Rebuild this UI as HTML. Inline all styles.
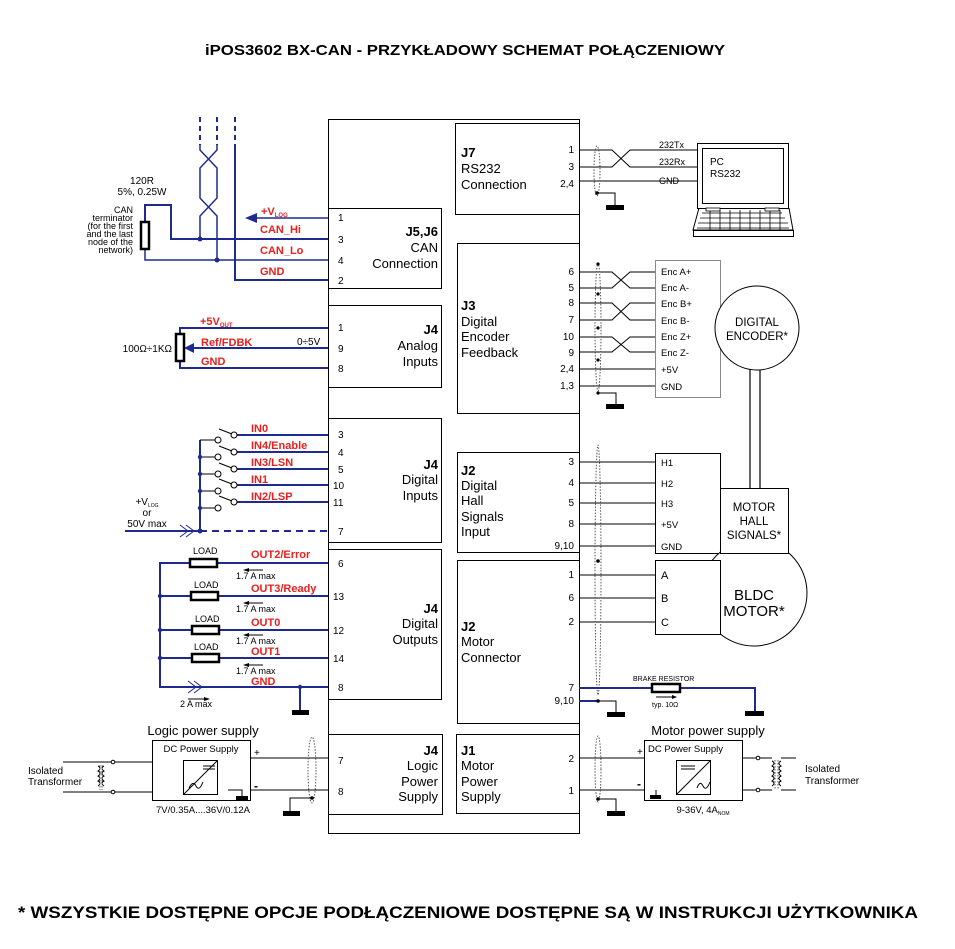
<!DOCTYPE html>
<html><head><meta charset="utf-8"><style>
html,body{margin:0;padding:0;background:#fff;}
svg{display:block;}
text{font-family:"Liberation Sans",sans-serif;}
.b{stroke:#1f2a8f;stroke-width:2;fill:none}
.k{stroke:#000;stroke-width:1;fill:none}
.r{fill:#e8201e;font-weight:bold;font-size:11px}
.p{font-size:10px;fill:#000}
.t{font-size:13px;fill:#000}
.s{font-size:9px;fill:#000}
.dot{fill:#1f2a8f}
.sh{stroke:#555;stroke-width:1;fill:none;stroke-dasharray:1.5 1.5}
</style></head><body>
<svg width="955" height="949" viewBox="0 0 955 949" xmlns="http://www.w3.org/2000/svg">
<text x="465" y="55" text-anchor="middle" font-weight="bold" font-size="15" textLength="520" lengthAdjust="spacingAndGlyphs">iPOS3602 BX-CAN - PRZYKŁADOWY SCHEMAT POŁĄCZENIOWY</text>
<text x="468" y="918" text-anchor="middle" font-weight="bold" font-size="17" textLength="900" lengthAdjust="spacingAndGlyphs">* WSZYSTKIE DOSTĘPNE OPCJE PODŁĄCZENIOWE DOSTĘPNE SĄ W INSTRUKCJI UŻYTKOWNIKA</text>

<g stroke="#000" stroke-width="1" fill="#fff">
<rect x="328.5" y="119.5" width="251" height="714"/>
<rect x="328.5" y="208.5" width="113" height="80"/>
<rect x="328.5" y="305.5" width="113" height="82"/>
<rect x="328.5" y="418.5" width="113" height="124"/>
<rect x="328.5" y="549.5" width="113" height="150"/>
<rect x="328.5" y="734.5" width="114" height="80"/>
<rect x="455.5" y="123.5" width="124" height="91"/>
<rect x="457.5" y="243.5" width="122" height="170"/>
<rect x="457.5" y="452.5" width="122" height="100"/>
<rect x="457.5" y="560.5" width="122" height="163"/>
<rect x="456.5" y="734.5" width="123" height="79"/>
</g>
<g class="t">
<text x="438" y="236" text-anchor="end" font-weight="bold">J5,J6</text>
<text x="438" y="252" text-anchor="end">CAN</text>
<text x="438" y="268" text-anchor="end">Connection</text>
<text x="438" y="334" text-anchor="end" font-weight="bold">J4</text>
<text x="438" y="350" text-anchor="end">Analog</text>
<text x="438" y="366" text-anchor="end">Inputs</text>
<text x="438" y="469" text-anchor="end" font-weight="bold">J4</text>
<text x="438" y="484" text-anchor="end">Digital</text>
<text x="438" y="500" text-anchor="end">Inputs</text>
<text x="438" y="613" text-anchor="end" font-weight="bold">J4</text>
<text x="438" y="628" text-anchor="end">Digital</text>
<text x="438" y="644" text-anchor="end">Outputs</text>
<text x="438" y="755" text-anchor="end" font-weight="bold">J4</text>
<text x="438" y="770" text-anchor="end">Logic</text>
<text x="438" y="786" text-anchor="end">Power</text>
<text x="438" y="801" text-anchor="end">Supply</text>
<text x="461" y="157" font-weight="bold">J7</text>
<text x="461" y="173">RS232</text>
<text x="461" y="189">Connection</text>
<text x="461" y="310" font-weight="bold">J3</text>
<text x="461" y="326">Digital</text>
<text x="461" y="341">Encoder</text>
<text x="461" y="357">Feedback</text>
<text x="461" y="475" font-weight="bold">J2</text>
<text x="461" y="490">Digital</text>
<text x="461" y="505">Hall</text>
<text x="461" y="521">Signals</text>
<text x="461" y="536">Input</text>
<text x="461" y="631" font-weight="bold">J2</text>
<text x="461" y="646">Motor</text>
<text x="461" y="662">Connector</text>
<text x="461" y="755" font-weight="bold">J1</text>
<text x="461" y="770">Motor</text>
<text x="461" y="786">Power</text>
<text x="461" y="801">Supply</text>
</g>
<g class="p">
<text x="338" y="221">1</text><text x="338" y="243">3</text><text x="338" y="264">4</text><text x="338" y="284">2</text>
<text x="338" y="331">1</text><text x="338" y="352">9</text><text x="338" y="372">8</text>
<text x="338" y="438">3</text><text x="338" y="456">4</text><text x="338" y="473">5</text><text x="333" y="489">10</text><text x="333" y="506">11</text><text x="338" y="535">7</text>
<text x="338" y="567">6</text><text x="333" y="600">13</text><text x="333" y="634">12</text><text x="333" y="662">14</text><text x="338" y="691">8</text>
<text x="338" y="764">7</text><text x="338" y="795">8</text>
</g>
<g class="p" text-anchor="end">
<text x="574" y="153">1</text><text x="574" y="170">3</text><text x="574" y="187">2,4</text>
<text x="574" y="275">6</text><text x="574" y="291">5</text><text x="574" y="306">8</text><text x="574" y="323">7</text><text x="574" y="340">10</text><text x="574" y="356">9</text><text x="574" y="372">2,4</text><text x="574" y="389">1,3</text>
<text x="574" y="465">3</text><text x="574" y="486">4</text><text x="574" y="506">5</text><text x="574" y="527">8</text><text x="574" y="549">9,10</text>
<text x="574" y="578">1</text><text x="574" y="601">6</text><text x="574" y="625">2</text>
<text x="574" y="691">7</text><text x="574" y="704">9,10</text>
<text x="574" y="762">2</text><text x="574" y="794">1</text>
</g>

<g class="b">
<path d="M200 117V145M217 117V145M235 117V145" stroke-dasharray="5 4"/>
<path d="M200 145V150L217 168V198L200 216V239M217 145V150L200 168V198L217 216V260" stroke-width="1.5"/>
<path d="M235 145V280H328"/>
<path d="M328 239H171V205H145V222"/>
<path d="M145 249V260H328" stroke-width="1.5"/>
<path d="M328 218H255" stroke-width="1.5"/>
</g>
<path d="M245 218L257 213V223Z" fill="#1f2a8f"/>
<circle class="dot" cx="200" cy="239" r="2.5"/><circle class="dot" cx="217" cy="260" r="2.5"/>
<rect x="141" y="222" width="8" height="27" fill="#fff" stroke="#000" stroke-width="2.5"/>
<text x="142" y="184" font-size="10" text-anchor="middle">120R</text>
<text x="142" y="195" font-size="10" text-anchor="middle">5%, 0.25W</text>
<g class="s" font-size="7" text-anchor="end"><text x="133" y="213">CAN</text><text x="133" y="221">terminator</text><text x="133" y="229">(for the first</text><text x="133" y="237">and the last</text><text x="133" y="245">node of the</text><text x="133" y="253">network)</text></g>
<text x="261" y="215" class="r">+V<tspan font-size="6" dy="2">LOG</tspan></text>
<text x="260" y="233" class="r">CAN_Hi</text>
<text x="260" y="254" class="r">CAN_Lo</text>
<text x="260" y="275" class="r">GND</text>

<g class="b"><path d="M328 328H180V334M328 368H180V361M328 348H190"/></g>
<path d="M184 348L194 343V353Z" fill="#1f2a8f"/>
<rect x="176" y="334" width="8" height="27" fill="#fff" stroke="#000" stroke-width="2.5"/>
<text x="200" y="325" class="r">+5V<tspan font-size="6" dy="2">OUT</tspan></text>
<text x="201" y="346" class="r">Ref/FDBK</text>
<text x="201" y="365" class="r">GND</text>
<text x="297" y="345" font-size="10">0÷5V</text>
<text x="172" y="352" font-size="10" text-anchor="end">100Ω÷1KΩ</text>

<g class="b">
<path d="M200 440V531M125 531H200"/>
<path d="M200 531H328" stroke-dasharray="7 5"/>
<path d="M233 435H328M233 452H328M233 469H328M233 485H328M233 502H328"/>
<path d="M180 525L188 531L180 537M186 525L194 531L186 537" stroke-width="1"/>
</g>
<g class="k">
<path d="M200 440H215M200 457H215M200 474H215M200 491H215M200 508H215"/>
<circle cx="218" cy="440" r="3" fill="#fff"/><circle cx="218" cy="457" r="3" fill="#fff"/><circle cx="218" cy="474" r="3" fill="#fff"/><circle cx="218" cy="491" r="3" fill="#fff"/><circle cx="218" cy="508" r="3" fill="#fff"/>
<circle cx="234" cy="435" r="3" fill="#fff"/><circle cx="234" cy="452" r="3" fill="#fff"/><circle cx="234" cy="469" r="3" fill="#fff"/><circle cx="234" cy="485" r="3" fill="#fff"/><circle cx="234" cy="502" r="3" fill="#fff"/>
<path d="M219 429L232 434M219 446L232 451M219 463L232 468M219 479L232 484M219 496L232 501"/>
</g>
<g class="dot"><circle cx="200" cy="457" r="2.2"/><circle cx="200" cy="474" r="2.2"/><circle cx="200" cy="491" r="2.2"/><circle cx="200" cy="508" r="2.2"/><circle cx="200" cy="531" r="2.5"/></g>
<text x="251" y="432" class="r">IN0</text>
<text x="251" y="449" class="r">IN4/Enable</text>
<text x="251" y="466" class="r">IN3/LSN</text>
<text x="251" y="483" class="r">IN1</text>
<text x="251" y="500" class="r">IN2/LSP</text>
<text x="147" y="505" font-size="10" text-anchor="middle">+V<tspan font-size="5" dy="2">LOG</tspan></text>
<text x="147" y="516" font-size="10" text-anchor="middle">or</text>
<text x="147" y="527" font-size="10" text-anchor="middle">50V max</text>

<g class="b">
<path d="M328 563H160V687H328M160 596H328M160 630H328M160 658H328"/>
<path d="M300 687V710"/>
<path d="M188 681L196 687L188 693M194 681L202 687L194 693" stroke-width="1"/>
</g>
<rect x="292" y="710" width="17" height="5" fill="#000"/>
<g class="dot"><circle cx="160" cy="596" r="2.2"/><circle cx="160" cy="630" r="2.2"/><circle cx="160" cy="658" r="2.2"/><circle cx="300" cy="687" r="2.2"/></g>
<g fill="#fff" stroke="#000" stroke-width="2.5"><rect x="190" y="559" width="27" height="8"/><rect x="191" y="592" width="27" height="8"/><rect x="192" y="626" width="27" height="8"/><rect x="192" y="654" width="27" height="8"/></g>
<g class="s" font-size="7"><text x="193" y="554">LOAD</text><text x="194" y="588">LOAD</text><text x="195" y="622">LOAD</text><text x="194" y="650">LOAD</text>
<text x="236" y="579">1.7 A max</text><text x="236" y="612">1.7 A max</text><text x="236" y="644">1.7 A max</text><text x="236" y="674">1.7 A max</text><text x="180" y="707">2 A max</text></g>
<g class="k"><path d="M246 570H263M246 603H263M246 635H263M246 665H263M188 699H207"/></g>
<path d="M243 570L249 568V572ZM243 603L249 601V605ZM243 635L249 633V637ZM243 665L249 663V667ZM210 699L204 697V701Z" fill="#000"/>
<text x="251" y="558" class="r">OUT2/Error</text>
<text x="251" y="592" class="r">OUT3/Ready</text>
<text x="251" y="626" class="r">OUT0</text>
<text x="251" y="655" class="r">OUT1</text>
<text x="251" y="685" class="r">GND</text>

<text x="203" y="735" font-size="13" text-anchor="middle">Logic power supply</text>
<rect x="152.5" y="740.5" width="98" height="60" fill="#fff" stroke="#000"/>
<text x="201" y="752" font-size="9.5" text-anchor="middle">DC Power Supply</text>
<rect x="183.5" y="760.5" width="34" height="34" fill="none" stroke="#000"/>
<path d="M184 794L217 761M203 766H215M203 769H215M189 788Q193 780 196 786T203 782" class="k"/>
<text x="203" y="813" font-size="9.5" text-anchor="middle">7V/0.35A....36V/0.12A</text>
<g class="k"><path d="M250 758H328M250 790H328M228 790H242V798M63 762H100M63 792H100M100 762H112M100 792H112"/></g>
<rect x="236" y="796" width="12" height="4" fill="#000"/>
<circle cx="113" cy="762" r="1.8" fill="#fff" stroke="#000"/><circle cx="113" cy="792" r="1.8" fill="#fff" stroke="#000"/>
<path d="M115 762H152M115 792H152" class="k"/>
<path d="M98 766q4 2 0 5q4 2 0 5q4 2 0 5q4 2 0 5M104 766q-4 2 0 5q-4 2 0 5q-4 2 0 5q-4 2 0 5" class="k"/>
<path d="M100 765V790M102 765V790" class="sh"/>
<text x="28" y="774" font-size="10">Isolated</text><text x="28" y="785" font-size="10">Transformer</text>
<text x="254" y="756" font-size="10">+</text><text x="254" y="790" font-size="12" font-weight="bold">-</text>
<ellipse cx="312" cy="770" rx="4" ry="33" class="sh"/>
<path d="M312 798H290V812" class="k"/>
<circle cx="312" cy="798" r="1.8"/>
<rect x="283" y="811" width="17" height="5" fill="#000"/>

<g class="k"><path d="M579 150H612L630 167H697M579 167H612L630 150H697M579 181H697"/></g>
<ellipse cx="597" cy="171" rx="3" ry="25" class="sh"/>
<circle cx="597" cy="193" r="1.8"/>
<path d="M597 193H615V206" class="k"/><rect x="606" y="205" width="18" height="5" fill="#000"/>
<g class="s" font-size="10"><text x="659" y="148">232Tx</text><text x="659" y="165">232Rx</text><text x="659" y="184">GND</text></g>
<rect x="697.5" y="143.5" width="91" height="65" fill="#fff" stroke="#000"/>
<rect x="702.5" y="148.5" width="81" height="55" fill="#fff" stroke="#000"/>
<text x="710" y="165" font-size="10">PC</text><text x="710" y="177" font-size="10">RS232</text>
<path d="M699 208L693 230H793L789 208" class="k"/>
<rect x="693.5" y="230.5" width="100" height="6" fill="#fff" stroke="#000"/>
<g stroke="#000" stroke-width="0.8"><path d="M702 213H782M700 218H785M698 223H788M697 228H789M710 210V230M720 210V230M730 210V230M740 210V230M750 210V230M760 210V230M770 210V230M780 210V230"/></g>
<rect x="706" y="208" width="14" height="3" fill="#fff" stroke="#000" stroke-width="0.8"/><rect x="765" y="208" width="14" height="3" fill="#fff" stroke="#000" stroke-width="0.8"/>

<g class="k">
<path d="M579 272H612L630 288H655M579 288H612L630 272H655"/>
<path d="M579 303H612L630 320H655M579 320H612L630 303H655"/>
<path d="M579 337H612L630 352H655M579 352H612L630 337H655"/>
<path d="M579 369H655M579 386H655"/>
</g>
<ellipse cx="598" cy="327" rx="3" ry="64" class="sh"/>
<g><circle cx="598" cy="264" r="1.6"/><circle cx="598" cy="294" r="1.6"/><circle cx="598" cy="328" r="1.6"/><circle cx="598" cy="360" r="1.6"/><circle cx="598" cy="393" r="1.6"/></g>
<path d="M598 393H616V405" class="k"/><rect x="606" y="404" width="18" height="5" fill="#000"/>
<rect x="655.5" y="260.5" width="65" height="137" fill="#fff" stroke="#888"/>
<g font-size="9.5"><text x="661" y="275">Enc A+</text><text x="661" y="291">Enc A-</text><text x="661" y="307">Enc B+</text><text x="661" y="324">Enc B-</text><text x="661" y="340">Enc Z+</text><text x="661" y="356">Enc Z-</text><text x="661" y="373">+5V</text><text x="661" y="390">GND</text></g>
<path d="M750 368V488M760 368V488" stroke="#000" stroke-width="1.2"/>
<circle cx="757" cy="328" r="42" fill="#fff" stroke="#000"/>
<text x="757" y="326" font-size="11.5" text-anchor="middle">DIGITAL</text>
<text x="757" y="340" font-size="11.5" text-anchor="middle">ENCODER*</text>

<g class="k"><path d="M579 462H655M579 483H655M579 503H655M579 524H655M579 546H655M579 575H655M579 598H655M579 622H655"/></g>
<rect x="655.5" y="453.5" width="65" height="100" fill="#fff" stroke="#000"/>
<g font-size="9.5"><text x="661" y="466">H1</text><text x="661" y="487">H2</text><text x="661" y="507">H3</text><text x="661" y="528">+5V</text><text x="661" y="550">GND</text></g>
<circle cx="754" cy="593" r="53" fill="#fff" stroke="#000"/>
<rect x="720.5" y="488.5" width="68" height="65" fill="#fff" stroke="#000"/>
<text x="754" y="511" font-size="11.5" text-anchor="middle">MOTOR</text>
<text x="754" y="525" font-size="11.5" text-anchor="middle">HALL</text>
<text x="754" y="539" font-size="11.5" text-anchor="middle">SIGNALS*</text>
<rect x="655.5" y="560.5" width="65" height="74" fill="#fff" stroke="#000"/>
<text x="754" y="600" font-size="15" text-anchor="middle">BLDC</text>
<text x="754" y="616" font-size="15" text-anchor="middle">MOTOR*</text>
<g font-size="11"><text x="661" y="579">A</text><text x="661" y="602">B</text><text x="661" y="626">C</text></g>
<ellipse cx="598" cy="570" rx="3" ry="125" class="sh"/>
<circle cx="598" cy="561" r="1.8"/>

<g class="b"><path d="M579 688H755V712M579 701H598"/></g>
<path d="M598 701H616V714" class="k" stroke-width="1.5"/>
<circle cx="598" cy="701" r="1.8"/>
<rect x="607" y="712" width="18" height="5" fill="#000"/><rect x="745" y="711" width="19" height="5" fill="#000"/>
<rect x="652" y="684" width="28" height="8" fill="#fff" stroke="#000" stroke-width="2.5"/>
<text x="633" y="681" font-size="7">BRAKE RESISTOR</text>
<path d="M656 697H674" class="k"/><path d="M677 697L672 695V699Z" fill="#000"/>
<text x="652" y="707" font-size="7">typ. 10Ω</text>

<text x="708" y="735" font-size="13" text-anchor="middle">Motor power supply</text>
<rect x="644.5" y="740.5" width="98" height="60" fill="#fff" stroke="#000"/>
<text x="648" y="752" font-size="9.5">DC Power Supply</text>
<rect x="676.5" y="760.5" width="34" height="34" fill="none" stroke="#000"/>
<path d="M677 794L710 761M681 766H695M681 769H695M697 788Q700 780 703 786T710 782" class="k"/>
<text x="703" y="813" font-size="9.5" text-anchor="middle">9-36V, 4A<tspan font-size="5" dy="2">NOM</tspan></text>
<g class="k"><path d="M579 758H644M579 790H644M656 790V797"/></g>
<rect x="650" y="795" width="11" height="4" fill="#000"/>
<text x="637" y="755" font-size="10">+</text><text x="637" y="788" font-size="12" font-weight="bold">-</text>
<ellipse cx="598" cy="769" rx="3" ry="33" class="sh"/>
<circle cx="598" cy="799" r="1.8"/>
<path d="M598 799H616V812" class="k"/><rect x="607" y="811" width="18" height="5" fill="#000"/>
<g class="k"><path d="M742 758H757M742 790H757M760 758H772M760 790H772M781 758H796M781 790H796"/></g>
<circle cx="758" cy="758" r="1.8" fill="#fff" stroke="#000"/><circle cx="758" cy="790" r="1.8" fill="#fff" stroke="#000"/>
<path d="M772 761q4 2 0 5q4 2 0 5q4 2 0 5q4 2 0 5q4 2 0 5M781 761q-4 2 0 5q-4 2 0 5q-4 2 0 5q-4 2 0 5q-4 2 0 5" class="k"/>
<path d="M775 760V789M778 760V789" class="sh"/>
<text x="805" y="772" font-size="10">Isolated</text><text x="805" y="784" font-size="10">Transformer</text>
</svg>
</body></html>
